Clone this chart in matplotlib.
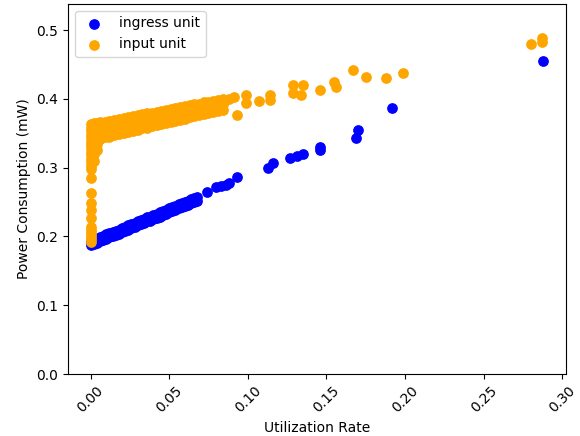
import matplotlib
matplotlib.use("Agg")
import matplotlib.pyplot as plt

# ingress unit (blue): dense line (lower row, upper row) then sparse points
ingress_x = [
    0.000, 0.002, 0.004, 0.006, 0.008, 0.010, 0.012, 0.014, 0.016, 0.018, 0.020, 0.022,
    0.024, 0.026, 0.028, 0.030, 0.032, 0.034, 0.036, 0.038, 0.040, 0.042, 0.044, 0.046,
    0.048, 0.050, 0.052, 0.054, 0.056, 0.058, 0.060, 0.062, 0.064, 0.066, 0.068,
    0.000, 0.002, 0.004, 0.006, 0.008, 0.010, 0.012, 0.014, 0.016, 0.018, 0.020, 0.022,
    0.024, 0.026, 0.028, 0.030, 0.032, 0.034, 0.036, 0.038, 0.040, 0.042, 0.044, 0.046,
    0.048, 0.050, 0.052, 0.054, 0.056, 0.058, 0.060, 0.062, 0.064, 0.066, 0.068,
    0.074, 0.080, 0.083, 0.086, 0.088, 0.093, 0.113, 0.116, 0.127, 0.131, 0.135,
    0.146, 0.146, 0.169, 0.170, 0.192, 0.288,
]
ingress_y = [
    0.187, 0.189, 0.191, 0.193, 0.195, 0.197, 0.199, 0.200, 0.202, 0.204, 0.206, 0.208,
    0.210, 0.212, 0.214, 0.216, 0.218, 0.220, 0.222, 0.223, 0.225, 0.227, 0.229, 0.231,
    0.233, 0.235, 0.237, 0.239, 0.241, 0.243, 0.244, 0.246, 0.248, 0.250, 0.252,
    0.193, 0.195, 0.197, 0.199, 0.201, 0.203, 0.205, 0.206, 0.208, 0.210, 0.212, 0.214,
    0.216, 0.218, 0.220, 0.222, 0.224, 0.226, 0.228, 0.229, 0.231, 0.233, 0.235, 0.237,
    0.239, 0.241, 0.243, 0.245, 0.247, 0.249, 0.250, 0.252, 0.254, 0.256, 0.258,
    0.265, 0.272, 0.273, 0.275, 0.278, 0.286, 0.300, 0.307, 0.314, 0.317, 0.320,
    0.326, 0.330, 0.343, 0.355, 0.387, 0.455,
]

# input unit (orange)
input_x = [
    # column at zero utilization
    0.000, 0.000, 0.000, 0.000, 0.000, 0.000, 0.000, 0.000, 0.000, 0.000, 0.000, 0.000,
    0.000, 0.000, 0.000, 0.000, 0.000, 0.000, 0.000, 0.000, 0.000, 0.000, 0.000, 0.000, 0.000,
    0.002, 0.002, 0.002, 0.002, 0.002, 0.002, 0.002,
    0.004, 0.004, 0.004, 0.004, 0.004,
    # dense band: bottom row
    0.006, 0.009, 0.012, 0.015, 0.018, 0.021, 0.024, 0.027, 0.030, 0.033, 0.036, 0.039, 0.042, 0.045,
    0.048, 0.051, 0.054, 0.057, 0.060, 0.063, 0.066, 0.069, 0.072, 0.075, 0.078, 0.081, 0.084,
    # dense band: middle row
    0.006, 0.009, 0.012, 0.015, 0.018, 0.021, 0.024, 0.027, 0.030, 0.033, 0.036, 0.039, 0.042, 0.045,
    0.048, 0.051, 0.054, 0.057, 0.060, 0.063, 0.066, 0.069, 0.072, 0.075, 0.078, 0.081, 0.084,
    # dense band: top row
    0.006, 0.009, 0.012, 0.015, 0.018, 0.021, 0.024, 0.027, 0.030, 0.033, 0.036, 0.039, 0.042, 0.045,
    0.048, 0.051, 0.054, 0.057, 0.060, 0.063, 0.066, 0.069, 0.072, 0.075, 0.078, 0.081, 0.084,
    # sparse points
    0.085, 0.088, 0.0915, 0.093, 0.099, 0.099, 0.107, 0.114, 0.114, 0.129, 0.129,
    0.134, 0.135, 0.146, 0.155, 0.156, 0.167, 0.175, 0.188, 0.199, 0.280, 0.287, 0.287,
]
input_y = [
    0.192, 0.196, 0.200, 0.205, 0.210, 0.214, 0.227, 0.238, 0.249, 0.263, 0.285, 0.298,
    0.303, 0.308, 0.313, 0.318, 0.323, 0.328, 0.333, 0.338, 0.343, 0.348, 0.353, 0.358, 0.363,
    0.310, 0.320, 0.330, 0.340, 0.350, 0.360, 0.365,
    0.325, 0.335, 0.345, 0.355, 0.365,
    0.342, 0.344, 0.345, 0.347, 0.349, 0.350, 0.352, 0.354, 0.355, 0.357, 0.358, 0.360, 0.362, 0.363,
    0.365, 0.367, 0.368, 0.370, 0.371, 0.373, 0.375, 0.376, 0.378, 0.380, 0.381, 0.383, 0.384,
    0.354, 0.356, 0.357, 0.359, 0.360, 0.361, 0.363, 0.365, 0.366, 0.368, 0.369, 0.370, 0.372, 0.373,
    0.375, 0.376, 0.378, 0.379, 0.380, 0.382, 0.384, 0.385, 0.387, 0.388, 0.389, 0.391, 0.392,
    0.366, 0.367, 0.368, 0.370, 0.371, 0.372, 0.374, 0.375, 0.376, 0.378, 0.379, 0.380, 0.381, 0.383,
    0.384, 0.385, 0.387, 0.388, 0.389, 0.391, 0.392, 0.393, 0.395, 0.396, 0.397, 0.399, 0.400,
    0.395, 0.400, 0.403, 0.376, 0.405, 0.394, 0.397, 0.398, 0.406, 0.408, 0.420,
    0.406, 0.420, 0.413, 0.424, 0.417, 0.442, 0.432, 0.430, 0.4375, 0.480, 0.488, 0.483,
]

fig = plt.figure(figsize=(5.8, 4.36), dpi=100)
ax = fig.add_axes([0.117, 0.142, 0.859, 0.849])
ax.scatter(ingress_x, ingress_y, color="blue", s=45, label="ingress unit")
ax.scatter(input_x, input_y, color="orange", s=45, label="input unit")
ax.set_ylim(0, 0.538)
ax.set_xlabel("Utilization Rate")
ax.set_ylabel("Power Consumption (mW)")
ax.tick_params(axis="x", labelrotation=45)
ax.legend(loc="upper left")
fig.savefig("out.png", dpi=100)
